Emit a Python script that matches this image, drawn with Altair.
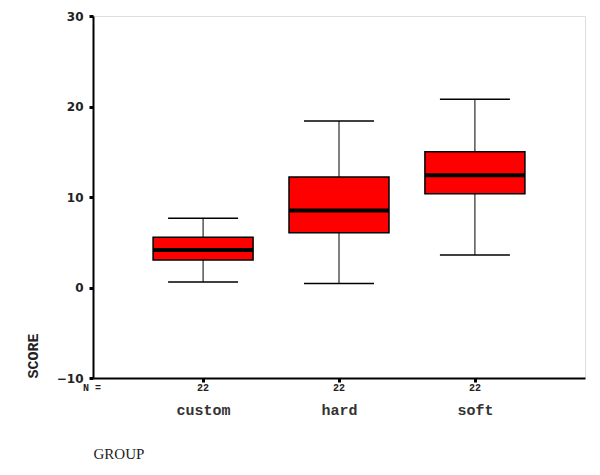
import altair as alt
import pandas as pd

groups = ["custom", "hard", "soft"]
n_counts = [22, 22, 22]
lower = [0.6, 0.45, 3.6]
q1 = [3.05, 6.05, 10.35]
median = [4.15, 8.5, 12.4]
q3 = [5.55, 12.2, 15.0]
upper = [7.65, 18.4, 20.8]

df = pd.DataFrame({
    "group": groups, "n": n_counts, "lower": lower, "q1": q1,
    "median": median, "q3": q3, "upper": upper,
})

W, H = 492, 362

xenc = alt.X(
    "group:N",
    scale=alt.Scale(type="point", padding=0.81),
    sort=groups,
    axis=alt.Axis(
        title="GROUP", titleFont="Liberation Serif", titleFontSize=15,
        titleFontWeight="normal", titleColor="#222",
        titleAnchor="start", titleAlign="left", titleX=0, titleY=80,
        titleBaseline="alphabetic",
        labelFont="Liberation Mono", labelFontSize=15, labelFontWeight="bold",
        labelColor="#333", labelPadding=20, labelAngle=0,
        tickSize=4, tickWidth=3, tickColor="black",
        domainColor="black", domainWidth=2,
    ),
)

yscale = alt.Scale(domain=[-10, 30], nice=False, zero=False)
yaxis = alt.Axis(
    title="SCORE", titleFont="Liberation Mono", titleFontSize=15,
    titleFontWeight="bold", titleColor="#222",
    titleAngle=270, titleX=-61, titleY=H, titleAlign="left",
    titleBaseline="middle",
    values=[-10, 0, 10, 20, 30],
    labelFont="DejaVu Sans", labelFontSize=12, labelFontWeight="bold",
    labelColor="#222", labelPadding=6,
    tickSize=4, tickWidth=3, tickColor="black",
    domainColor="black", domainWidth=2, grid=False,
)

base = alt.Chart(df).encode(x=xenc)

whisker = base.mark_rule(color="black", strokeWidth=1, opacity=1).encode(
    y=alt.Y("lower:Q", scale=yscale, axis=yaxis), y2="upper:Q"
)
cap_lo = base.mark_tick(color="black", size=70, thickness=1.5, opacity=1).encode(
    y=alt.Y("lower:Q", scale=yscale)
)
cap_hi = base.mark_tick(color="black", size=70, thickness=1.5, opacity=1).encode(
    y=alt.Y("upper:Q", scale=yscale)
)
box = base.mark_bar(size=100, color="#ff0000", stroke="black", strokeWidth=1.5,
                    opacity=1).encode(
    y=alt.Y("q1:Q", scale=yscale), y2="q3:Q"
)
med = base.mark_tick(color="black", size=100, thickness=4, opacity=1).encode(
    y=alt.Y("median:Q", scale=yscale)
)
ntext = base.mark_text(
    font="Liberation Mono", fontSize=10, fontWeight="bold", color="#222",
    baseline="middle", align="center",
).encode(y=alt.value(H + 10), text="n:Q")
nlabel = alt.Chart(pd.DataFrame({"t": ["N ="]})).mark_text(
    font="Liberation Mono", fontSize=10, fontWeight="bold", color="#222",
    baseline="middle", align="left",
).encode(x=alt.value(-10), y=alt.value(H + 10), text="t:N")

chart = alt.layer(whisker, cap_lo, cap_hi, box, med, ntext, nlabel).properties(
    width=W, height=H,
    autosize=alt.AutoSizeParams(type="none"),
    padding={"left": 85, "top": 8, "right": 7, "bottom": 88},
).configure_view(stroke="#333", strokeWidth=2).configure(background="white")

chart.save("out.html", embed_options={"renderer": "svg", "actions": False})
